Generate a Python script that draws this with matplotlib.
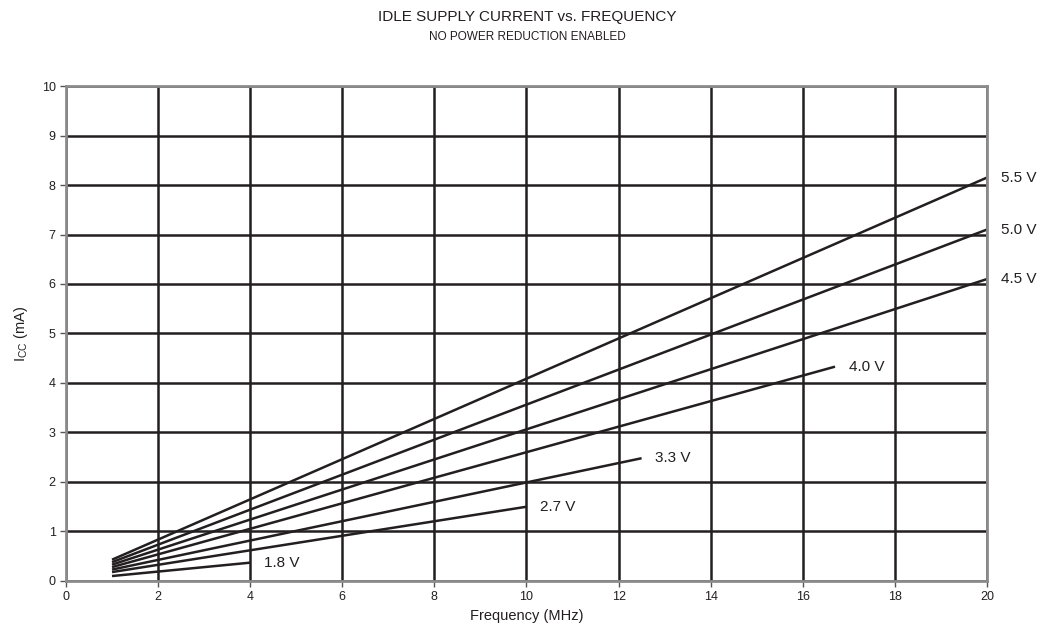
import matplotlib.pyplot as plt

plt.rcParams['font.family'] = ['Liberation Sans', 'DejaVu Sans']

# supply voltage curves: start at 1 MHz, end at the max frequency for that Vcc
labels = ['1.8 V', '2.7 V', '3.3 V', '4.0 V', '4.5 V', '5.0 V', '5.5 V']
f_start = [1, 1, 1, 1, 1, 1, 1]
f_end = [4, 10, 12.5, 16.7, 20, 20, 20]
icc_start = [0.10, 0.18, 0.23, 0.28, 0.33, 0.38, 0.43]
icc_end = [0.37, 1.50, 2.48, 4.33, 6.10, 7.10, 8.15]

fig = plt.figure(figsize=(10.54, 6.39), dpi=100)
ax = fig.add_axes([0.0626, 0.0908, 0.8738, 0.7746])

for lab, x0, x1, y0, y1 in zip(labels, f_start, f_end, icc_start, icc_end):
    ax.plot([x0, x1], [y0, y1], color='#231f20', lw=1.8, solid_capstyle='butt')
    ax.annotate(lab, (x1, y1), xytext=(10, 0), textcoords='offset points',
                va='center', ha='left', fontsize=11, color='#231f20',
                annotation_clip=False)

ax.set_xlim(0, 20)
ax.set_ylim(0, 10)
ax.set_xticks(range(0, 21, 2))
ax.set_yticks(range(0, 11))
ax.grid(True, color='#231f20', lw=1.8)
ax.set_axisbelow(True)

for side in ax.spines:
    ax.spines[side].set_color('#8c8c8c')
    ax.spines[side].set_linewidth(2)

ax.tick_params(labelsize=9, labelcolor='#231f20', color='#555555', length=4, width=1)
ax.set_xlabel('Frequency (MHz)', fontsize=10.5, color='#231f20', labelpad=4)
ax.set_ylabel('I$_{\\mathregular{CC}}$ (mA)', fontsize=10.5, color='#231f20', labelpad=8)

fig.text(0.5, 1 - 17 / 639, 'IDLE SUPPLY CURRENT vs. FREQUENCY',
         ha='center', va='center', fontsize=11, color='#231f20')
fig.text(0.5, 1 - 37 / 639, 'NO POWER REDUCTION ENABLED',
         ha='center', va='center', fontsize=8.5, color='#231f20')

fig.savefig('out.png', dpi=100)
